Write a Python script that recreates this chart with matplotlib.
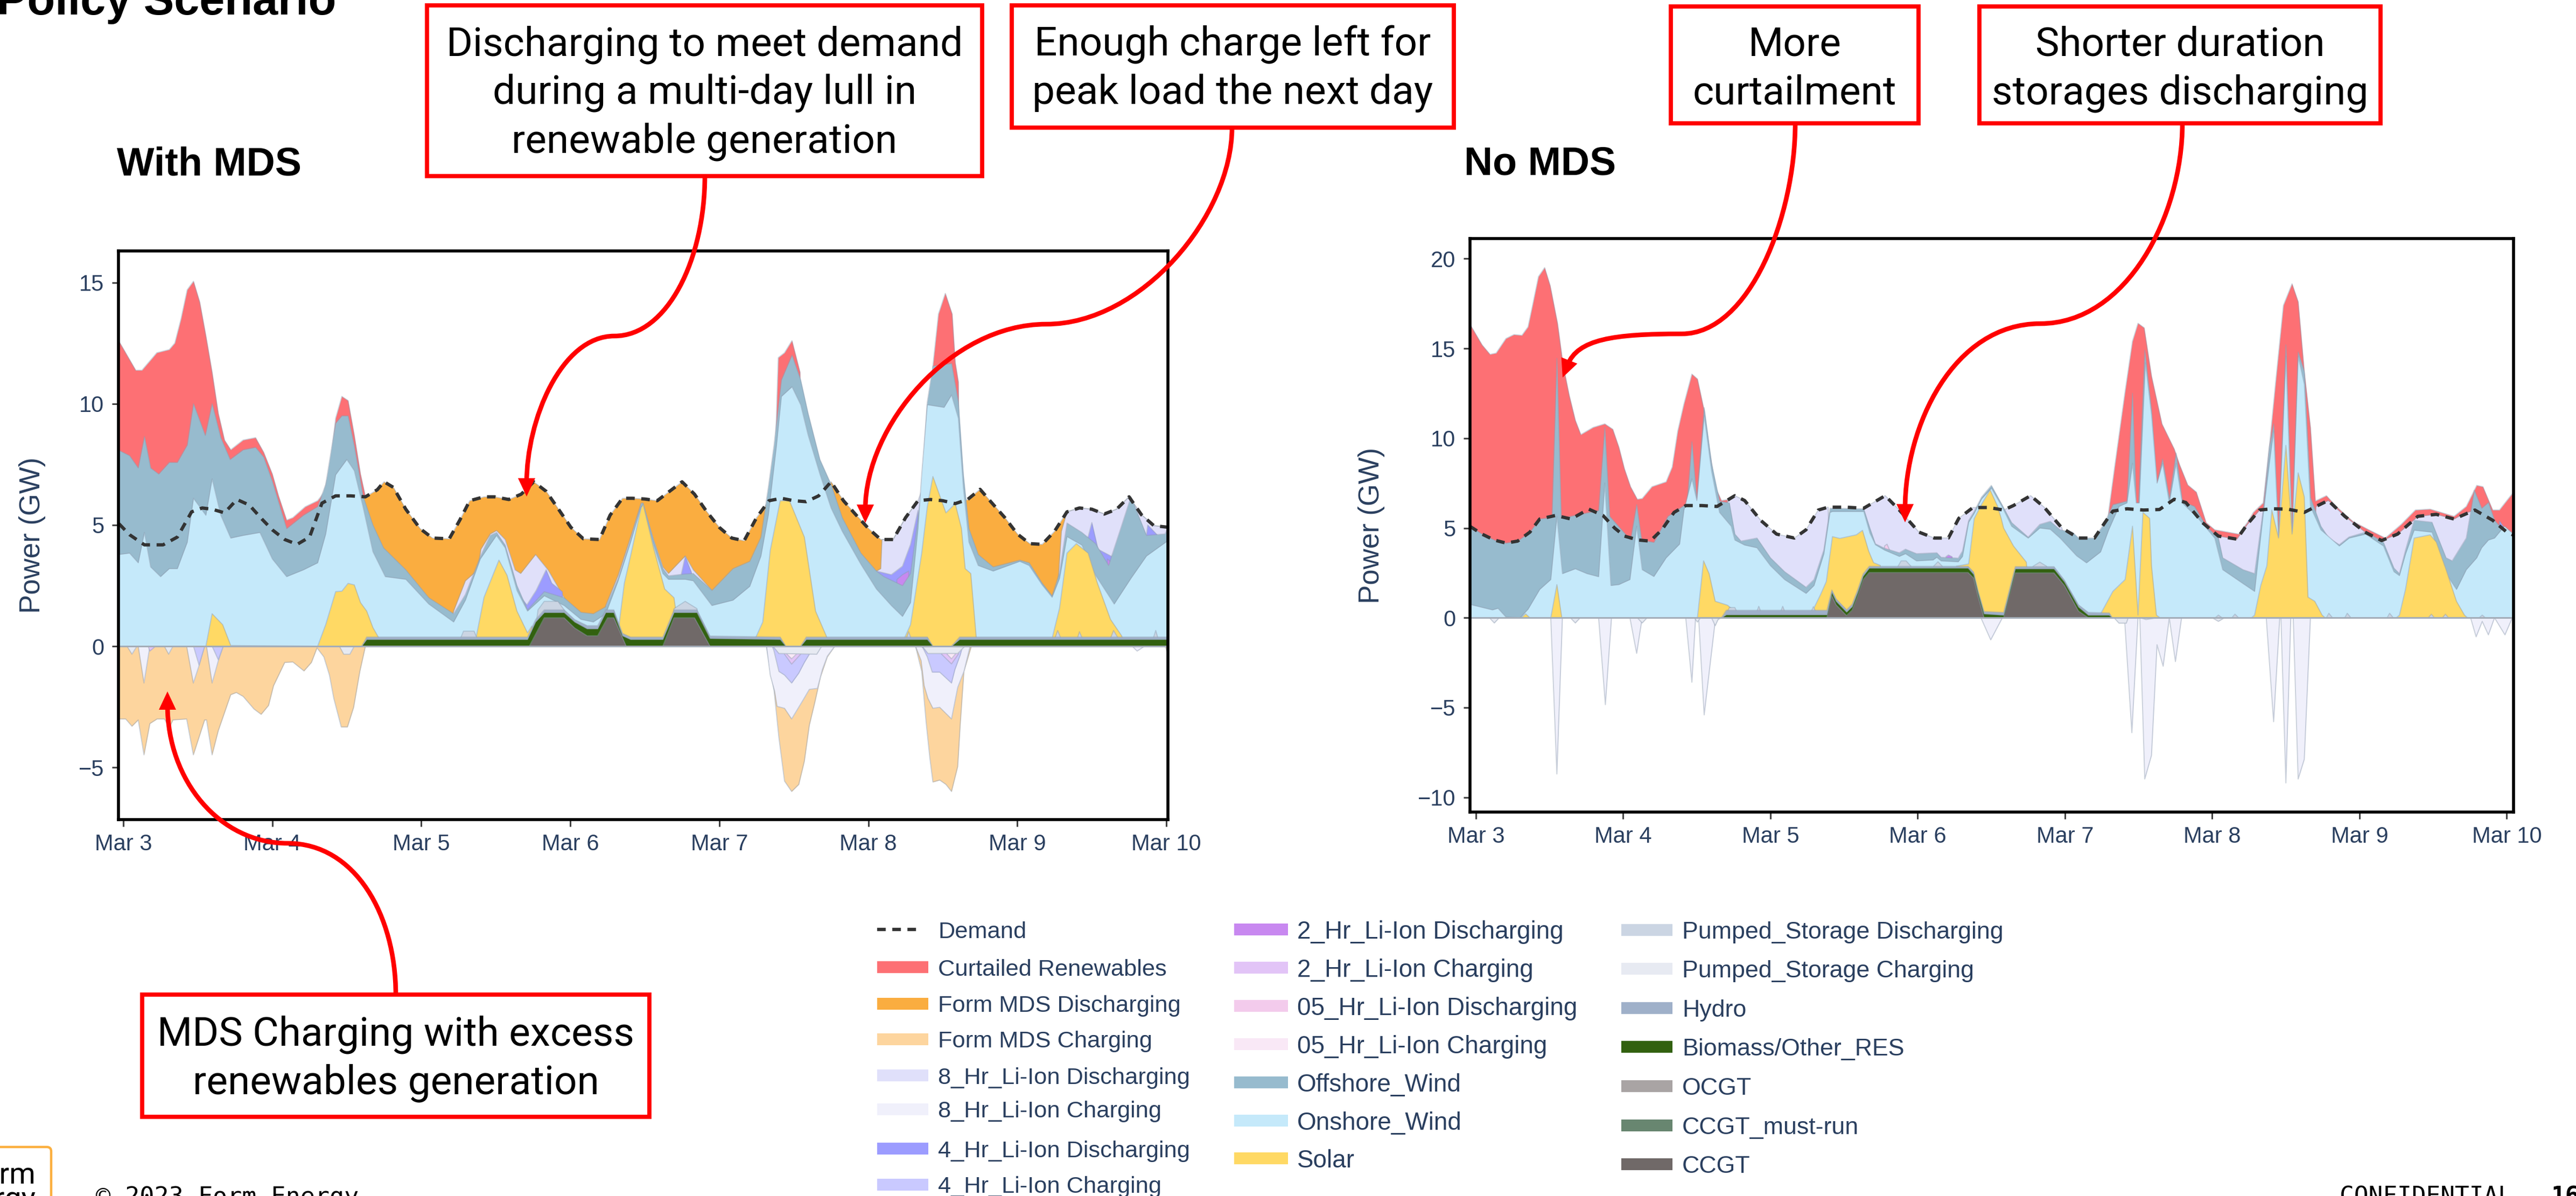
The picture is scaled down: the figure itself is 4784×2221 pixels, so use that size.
import matplotlib
matplotlib.use('Agg')
import matplotlib.pyplot as plt
from matplotlib.path import Path
from matplotlib.patches import PathPatch, Polygon, Rectangle, FancyBboxPatch

W, H = 4784, 2221
DPI = 200

# Colours of the legend entries
colors = {
    'curtailed': '#fd7074', 'mds_dis': '#faad40', 'mds_chg': '#fdd59e',
    'h8_dis': '#e0e0fa', 'h8_chg': '#f0f0fb', 'h4_dis': '#9c9cff', 'h4_chg': '#c9c9ff',
    'h2_dis': '#c888f0', 'h2_chg': '#e2c4f7', 'h05_dis': '#f3cbec', 'h05_chg': '#f9e8f6',
    'offshore': '#97bbce', 'onshore': '#c5e9fa', 'solar': '#ffd964',
    'ps_dis': '#cbd5e3', 'ps_chg': '#e7eaf2', 'hydro': '#9fb0c9', 'biomass': '#32610f',
    'ocgt': '#a9a4a4', 'must_run': '#688670', 'ccgt': '#706968',
}

day_ticks = [0, 24, 48, 72, 96, 120, 144, 168]
day_labels = ['Mar 3', 'Mar 4', 'Mar 5', 'Mar 6', 'Mar 7', 'Mar 8', 'Mar 9', 'Mar 10']

# ---------- With MDS (values are the top of each stacked layer, GW) ----------
L_demand_h = [-0.7, 1, 3.4, 6.4, 8.7, 11, 12.7, 14.3, 16.3, 18.3, 20.3, 22.3, 24, 26, 28, 30, 32, 34.2, 36.6, 39,
              40.9, 42, 43.5, 45.5, 47.8, 49.8, 52.5, 54.2, 55.8, 58.1, 59.8, 62.1, 64.1, 66.1, 68.1, 70.1, 72.1,
              74.1, 76.7, 78.4, 80.4, 82, 84, 86, 88, 90, 92, 94, 96, 98, 100, 102, 104, 106, 108, 110, 112, 114,
              116, 118, 120, 122, 124, 126, 128, 130, 132, 134, 136, 138, 140, 142, 144, 146, 148, 150, 152, 154,
              156, 158, 160, 162, 164, 166, 168.5]
L_demand = [5.05, 4.6, 4.18, 4.18, 4.5, 5.54, 5.7, 5.65, 5.5, 6.05, 5.82, 5.25, 4.8, 4.4, 4.2, 4.5, 5.9, 6.2, 6.2, 6.16,
            6.45, 6.78, 6.55, 5.65, 4.85, 4.46, 4.43, 5.2, 6.0, 6.16, 6.16, 6.05, 6.27, 6.78, 6.39, 5.65, 4.9,
            4.43, 4.4, 5.4, 6.1, 6.1, 6.07, 6.0, 6.39, 6.78, 6.27, 5.54, 4.9, 4.46, 4.35, 5.3, 6.0, 6.1, 6.0, 5.96, 6.2, 6.78,
            6.0, 5.42, 4.86, 4.4, 4.4, 5.3, 6.0, 6.05, 6.0, 5.88, 6.05, 6.47, 5.88, 5.3, 4.63, 4.23, 4.2, 4.74, 5.54, 5.7,
            5.65, 5.45, 5.65, 6.16, 5.42, 4.97, 4.9]

L_curtailed_h = [-0.8, 2, 3, 5.4, 7.4, 8.3, 9.3, 10.3, 11.3, 12.3, 13.3, 14.3, 15.3, 16.3, 17.3, 19.3, 21.3, 22.6, 24, 25,
                 26.3, 27.3, 29.3, 31.3, 32.3, 33.3, 34.2, 35.2, 36.2, 37.2, 38.2, 39, 39.3, 104, 105.5, 106.5, 107.7,
                 109, 109.5, 129, 130.4, 131.3, 132.4, 133.5, 134, 134.5, 135, 168.5]
L_curtailed = [12.62, 11.38, 11.38, 12.1, 12.23, 12.5, 13.5, 14.7, 15.05, 14.2, 12.8, 11.3, 9.6, 8.5, 8.1, 8.5, 8.6, 8.0, 7.1, 6.2,
               5.2, 5.3, 5.75, 6.0, 6.33, 7.35, 9.4, 10.3, 10.13, 8.7, 7.1, 6.16, 0, 0, 11.9, 12.1, 12.6,
               11.3, 0, 0, 11.55, 13.7, 14.55, 13.7, 11.7, 10.9, 0, 0]

L_h8_h = [52, 53.2, 55.1, 57.1, 57.6, 59.1, 60.1, 61.5, 63.1, 64, 66.4, 68.4, 71, 72, 77, 77.7, 79.7, 81.7, 83.4, 83.7, 85.4, 86.9,
          87.8, 90.5, 91.8, 94.8, 95, 121, 121.3, 122, 122.2, 124, 126, 128, 128.6, 129, 149, 149.6, 150.5, 151.1, 152, 154, 156, 158,
          160, 162, 164, 166, 168.5]
L_h8 = [0, 1.45, 2.7, 3.15, 4.0, 4.63, 4.77, 4.4, 3.15, 3.0, 3.78, 3.15, 2.0, 0, 0, 1.68, 2.93, 4.5, 5.9, 5.9, 4.4, 3.27,
        3.0, 3.72, 3.15, 2.3, 0, 0, 3.1, 3.2, 4.4, 4.4, 5.3, 6.0, 6.4, 0, 0, 2.08, 2.37, 4.74, 5.54, 5.7, 5.65, 5.45,
        5.65, 6.16, 5.42, 4.97, 4.9]

L_h4_h = [63.8, 64.1, 65, 66.5, 68.1, 69, 70.7, 71, 89.5, 89.9, 90.5, 91.5, 91.8, 121, 121.3, 123.7, 125.5, 126.8, 128, 128.3,
          155, 155.2, 156, 157, 159.2, 160, 160.5, 164.5, 164.8, 165, 166.5, 166.7]
L_h4 = [0, 2.0, 1.7, 2.3, 3.15, 2.6, 2.25, 0, 0, 3.0, 3.7, 3.05, 0, 0, 3.1, 2.95, 3.3, 4.2, 5.6, 0,
        0, 4.3, 5.1, 4.0, 3.7, 3.9, 0, 0, 4.6, 5.0, 4.6, 0]

L_h2_h = [124.5, 124.6, 125.5, 126.5, 126.7, 158.3, 158.5, 159, 159.8, 160]
L_h2 = [0, 2.75, 2.95, 3.1, 0, 0, 3.6, 3.5, 3.7, 0]

L_offshore_h = [-0.8, 1, 2.4, 3.4, 4.4, 5.7, 7.4, 8.7, 10.3, 11.3, 13.2, 14.3, 15.7, 17.2, 19.3, 21.3, 22.6, 24, 26.3, 29, 31.3,
                32.6, 34.2, 35.2, 36.2, 37.2, 38.6, 40.2, 41.9, 45.5, 49.2, 53.2, 55.1, 57.5, 59.1, 60.1, 61.5, 63.4, 65.1,
                67.8, 71, 73.7, 75.7, 77.7, 79.7, 81.7, 83.4, 83.7, 85.4, 86.9, 87.8, 90.5, 91.8, 94.8, 98.2, 100.9, 102.7,
                103.9, 104.8, 106, 107.7, 109.1, 110.3, 112.2, 114, 115.8, 118.8, 121.3, 122.5, 125.5, 126.8, 128, 128.6,
                129.5, 130.4, 133.4, 134.5, 135.3, 136.2, 137.7, 140.1, 144.4, 145.9, 148, 149.6, 150.8, 152, 154.4,
                156.6, 158.7, 160.8, 162.3, 164.8, 167.8, 168.5]
L_offshore = [8.09, 7.86, 7.35, 8.65, 7.35, 7.1, 7.58, 7.58, 8.3, 10.0, 8.69, 10.0, 8.6, 7.7, 8.1, 8.2, 7.8, 6.8, 4.85, 5.4, 5.76,
              6.67, 9.2, 9.5, 9.5, 8.26, 6.2, 5.0, 4.06, 3.15, 2.0, 1.34, 2.13, 3.7, 4.57, 4.69, 4.17, 2.5, 1.5,
              2.25, 2.0, 1.4, 1.34, 1.63, 2.8, 4.4, 5.87, 5.9, 4.35, 3.2, 2.9, 2.98, 3.0, 2.3, 3.2, 3.5, 4.5,
              6.56, 8.26, 10.98, 12.0, 10.98, 9.6, 7.7, 6.67, 5.3, 3.84, 3.1, 2.87, 2.5, 3.0, 5.3, 6.44,
              10.07, 11.55, 11.66, 10.07, 7.1, 4.85, 3.78, 3.27, 3.55, 3.44, 2.6, 2.08, 3.04, 5.08, 4.69,
              4.23, 3.33, 4.97, 6.16, 4.57, 4.63, 5.03]

L_onshore_h = [-0.8, 1, 2.4, 3.4, 4.4, 6, 7.4, 8.7, 10.3, 11.3, 13.3, 14.3, 15.7, 17.3, 19.3, 22, 24, 26.3, 29, 31.3, 32.6, 34.2,
               36, 37.2, 38.6, 40.2, 42.2, 45.5, 49.2, 53.2, 55.1, 57.5, 60.1, 61.5, 63.4, 65.1, 67.8, 71, 73.7, 75.7, 77.7,
               79.7, 81.7, 83.4, 83.7, 85.4, 86.9, 87.8, 90.5, 91.8, 94.8, 98.2, 100.9, 102.7, 103.9, 105.2, 106, 107.7,
               109.1, 110.3, 112.2, 114, 115.8, 118.8, 121.3, 123.7, 125.5, 126.8, 128, 128.6, 129.5, 132.2, 133.4, 134.5,
               135.3, 136.2, 137.7, 140.1, 144.4, 145.9, 148, 149.6, 150.8, 152, 154.4, 156.6, 159.6, 162.3, 164.8, 168.5]
L_onshore = [3.78, 3.84, 3.44, 4.69, 3.27, 2.87, 3.2, 3.2, 4.29, 6.1, 5.4, 6.9, 5.4, 4.46, 4.57, 4.69, 3.6, 2.87, 3.15, 3.44, 4.63, 7.07,
             7.7, 7.24, 5.76, 3.9, 2.87, 2.76, 1.74, 1.0, 1.9, 3.6, 4.57, 4.06, 2.3, 1.45, 2.08, 1.68, 1.11, 1.0, 1.34,
             2.7, 4.29, 5.76, 5.76, 4.17, 3.0, 2.76, 2.76, 2.7, 1.68, 1.9, 2.47, 3.72, 5.42, 8.26, 10.3, 10.7,
             9.96, 8.71, 7.1, 5.7, 4.74, 3.38, 2.36, 1.68, 1.23, 1.8, 4.86, 7.1, 9.96, 9.85, 10.36, 9.4,
             6.56, 4.29, 3.33, 3.1, 3.5, 3.33, 2.53, 2.02, 2.8, 4.52, 4.17, 2.93, 1.74, 2.8, 3.72, 4.4]

L_solar_h = [13.3, 14.3, 16, 17.3, 31.3, 32.6, 34.2, 35.2, 36.2, 37.2, 38.2, 39.2, 40.2, 41.2, 42, 56, 56.8, 58.1, 60.5, 61.8, 63.4,
             65.1, 65.8, 66.4, 79.5, 80, 80.7, 81.7, 83.4, 83.7, 85.4, 87.2, 88.7, 89, 89.5, 101.4, 101.8, 103, 104.2, 105.8,
             107.3, 109.7, 111.5, 113.4, 114, 125.4, 125.8, 126.8, 128.6, 129.5, 130.4, 132.5, 134, 135, 135.6, 136.5, 137.4,
             138, 149.2, 149.6, 150.8, 152, 153.5, 155.4, 156.9, 159, 160.8, 161.4]
L_solar = [0, 1.34, 0.89, 0.03, 0, 0.89, 2.25, 2.27, 2.59, 2.53, 1.8, 1.45, 0.77, 0.32, 0, 0, 0.32, 2.02, 3.55, 2.93, 1.45,
           0.55, 0.83, 0, 0, 1.2, 2.6, 3.72, 5.7, 5.87, 4.06, 2.36, 2.0, 1.45, 0, 0, 0.32, 1.0, 3.95, 6.0,
           6.0, 4.5, 1.45, 0.32, 0, 0, 0.32, 0.89, 3.84, 5.76, 7.0, 5.5, 5.88, 4.86, 3.2, 3.0, 0.32,
           0, 0, 0.32, 1.57, 3.84, 4.23, 3.84, 2.6, 1.11, 0.43, 0]

L_ps_h = [53.8, 54.8, 56.5, 57.5, 66, 66.8, 67.8, 70, 71, 71.5, 88, 88.7, 90.5, 92.4, 93, 125.7, 126.5, 127.3, 149.6, 150.5, 151.5,
          153.3, 154, 155, 158.5, 159.5, 161, 165.5, 166.3, 167]
L_ps = [0, 0.62, 0.62, 0, 0, 1.5, 1.85, 1.85, 1.5, 0, 0, 1.55, 1.85, 1.55, 0, 0, 0.6, 0, 0, 0.65, 0,
        0, 0.6, 0, 0, 0.65, 0, 0, 0.65, 0]

L_biomass_h = [38.4, 39.2, 65.1, 66.4, 67.8, 71, 72.7, 74.7, 76.4, 77.7, 79, 80.4, 81.7, 86.9, 88.7, 92.4, 94.5, 105.8, 106.7, 109.1,
               110, 129.5, 130.4, 133.4, 134.7, 168.5]
L_hydro = [0, 0.38, 0.38, 1.1, 1.5, 1.5, 1.1, 0.85, 0.85, 1.5, 1.5, 0.53, 0.38, 0.38, 1.5, 1.5, 0.42, 0.38, 0, 0,
           0.38, 0.38, 0, 0, 0.38, 0.38]
L_biomass = [0, 0.28, 0.28, 1.0, 1.39, 1.39, 1.0, 0.72, 0.72, 1.39, 1.39, 0.43, 0.28, 0.28, 1.39, 1.39, 0.32, 0.28, 0, 0,
             0.28, 0.28, 0, 0, 0.28, 0.28]

L_ccgt_h = [65.4, 67.8, 71, 72.7, 74.7, 76.4, 78, 79, 81, 86.9, 88.7, 92, 94.5]
L_ccgt = [0, 1.17, 1.17, 0.75, 0.43, 0.43, 1.17, 1.17, 0, 0, 1.17, 1.17, 0]

L_mds_chg_h = [-0.8, 0.38, 1.39, 2.4, 3.33, 4.28, 5.44, 6.6, 7.46, 8, 10.2, 11.28, 13.1, 13.4, 14.3, 15.3, 16.1, 17.3, 18.2, 19.3, 21.05,
               22.2, 23.4, 24.2, 26, 27.3, 29.1, 30.3, 31.2, 32.3, 33.2, 33.9, 35.1, 36.1, 37.1, 38.1, 39, 103.6, 104.8, 105.6,
               106.5, 107.65, 108.8, 109.7, 110.5, 111.4, 112.3, 113.4, 114.6, 127.6, 128.6, 129.3, 129.9, 130.4, 131.5, 132.5,
               133.4, 134.4, 134.8, 135.4, 136.6, 167.8, 168.5]
L_mds_chg = [-3.0, -3.0, -3.3, -3.04, -4.48, -3.19, -3.0, -3.0, -3.33, -3.04, -3.0, -4.48, -3.04, -3.04, -4.48, -3.48, -2.89, -2.0, -1.91, -2.07, -2.59,
             -2.81, -2.44, -1.63, -0.67, -0.65, -1.02, -0.67, -0.07, -0.44, -1.19, -2.15, -3.33, -3.33, -2.52, -1.04, 0, 0, -1.78, -3.78,
             -5.56, -5.99, -5.7, -4.74, -3.26, -2.3, -1.26, -0.44, 0, 0, -1.04, -3.11, -4.59, -5.6, -5.52, -5.7,
             -5.99, -4.96, -3.26, -1.04, 0, 0, -0.5]

L_h8_chg_h = [2.4, 3.33, 4.28, 10.2, 11.28, 12.2, 13.1, 13.4, 14.3, 15.3, 16.1, 103.6, 104.2, 104.9, 105.3, 106.5, 107.65, 109.4, 110.5,
              111.8, 112.6, 113.4, 114.6, 127.6, 128.5, 129, 129.6, 130.4, 131.5, 133.4, 134.4, 135.4, 136.4, 162.5, 163.3, 164.5]
L_h8_chg = [0, -1.52, 0, 0, -1.52, -0.8, 0, 0, -1.52, -0.6, 0, 0, -1.19, -1.85, -2.48, -2.56, -3.0, -2.26, -1.78,
            -1.74, -0.96, -0.41, 0, 0, -0.59, -1.63, -2.15, -2.56, -2.52, -3.0, -1.7, -1.04, 0, 0, -0.2, 0]

L_h4_chg_h = [11.3, 12.2, 13.1, 14.3, 15.3, 16.1, 104.5, 104.76, 105.6, 106.5, 107.65, 108.8, 109.7, 110.5, 110.9, 128.5, 128.8, 129.5,
              130.3, 131.5, 133.4, 133.95, 134.8, 135.2]
L_h4_chg = [0, -0.78, 0, 0, -0.56, 0, 0, -0.15, -1.04, -1.19, -1.52, -1.11, -0.67, -0.33, 0, 0, -0.07, -0.44,
            -1.07, -1.07, -1.52, -0.96, -0.37, 0]

L_h2_chg_h = [4.0, 4.28, 5.2, 106.2, 106.5, 107.65, 109.1, 109.4, 131.5, 131.8, 133.4, 134.5, 134.8]
L_h2_chg = [0, -0.2, 0, 0, -0.33, -0.74, -0.33, 0, 0, -0.33, -0.73, -0.33, 0]

L_h05_chg_h = [106.7, 106.9, 107.65, 108.4, 108.6, 132.5, 132.7, 133.4, 134, 134.2]
L_h05_chg = [0, -0.33, -0.52, -0.33, 0, 0, -0.33, -0.52, -0.33, 0]

L_ps_chg_h = [0.6, 1.39, 2.2, 6.6, 7.3, 8, 34.8, 35.5, 36.5, 37.2, 104.5, 104.76, 105.6, 111.7, 112.4, 112.6, 128.6, 128.8, 129.6, 134.4, 135.4, 135.6]
L_ps_chg = [0, -0.33, 0, 0, -0.33, 0, 0, -0.33, -0.33, 0, 0, -0.04, -0.3, -0.33, -0.04, 0, 0, -0.04, -0.3, -0.3, -0.04, 0]

# ---------- No MDS ----------
R_demand_h = [-1, 1, 3, 4.9, 6.8, 8.8, 10.4, 13, 15.5, 18.4, 20.7, 22.6, 24.2, 26.5, 28.4, 30.3, 32.3, 34.2, 36.8, 39.3, 42.2, 43.8,
              46.4, 49, 51.9, 53.8, 55.8, 57.4, 60.3, 63.2, 66.7, 69, 72.2, 74.7, 77, 78.7, 81, 83.6, 86, 87.6, 90.4, 92.6, 95.5, 98.2,
              100.8, 102.5, 103.8, 106.1, 108.8, 111.4, 113.8, 115.7, 118.4, 121, 124, 125.7, 127.7, 129.7, 132.3, 135, 136.9, 138.9,
              141.6, 144.9, 147.6, 150.2, 153.5, 156.5, 159.4, 162.8, 165.7, 168, 169.1]
R_demand = [5.1, 4.66, 4.33, 4.16, 4.27, 4.77, 5.5, 5.7, 5.5, 6.05, 5.7, 5.0, 4.55, 4.33, 4.27, 4.9, 5.87, 6.25, 6.25, 6.2, 6.8, 6.53,
            5.43, 4.66, 4.44, 4.9, 6.0, 6.16, 6.16, 6.1, 6.8, 6.0, 4.77, 4.44, 4.44, 5.54, 6.14, 6.14, 6.0, 6.25, 6.8, 6.16, 5.0, 4.44,
            4.44, 5.3, 5.94, 6.07, 6.0, 6.03, 6.6, 6.42, 5.3, 4.55, 4.38, 5.2, 6.0, 6.07, 6.05, 5.87, 6.2, 6.53,
            5.65, 4.77, 4.3, 4.66, 5.65, 5.76, 5.5, 6.0, 5.43, 4.77, 4.6]

R_curtailed_h = [-1, 1, 2.3, 3.3, 4.9, 6.2, 7.5, 8.5, 9.3, 10.2, 11.2, 12.1, 13.3, 14.2, 15.2, 16.2, 17.1, 19.1, 21, 22.3, 23.3, 24.2, 25.2,
                 26.3, 27.1, 28.7, 31, 32, 32.9, 33.9, 35.2, 36.1, 37.1, 38, 39, 40, 41, 41.5, 102.5, 103.1, 104.1, 105.8, 107, 107.9, 108.9,
                 110.1, 111.8, 113.8, 114.7, 116, 117.4, 119, 120.4, 124.3, 125.7, 126.7, 128.3, 129.3, 130.3, 131.6, 133, 134,
                 135, 136, 136.8, 138.6, 140.2, 142.9, 145.5, 148.2, 150.8, 153.1, 155.5, 159.4, 161.4, 163.1, 164.1, 165.7, 166.8, 169.1]
R_curtailed = [16.37, 15.2, 14.67, 14.74, 15.55, 15.77, 15.73, 16.2, 17.5, 19.0, 19.5, 18.5, 16.4, 14.1, 12.4, 11.0, 10.2, 10.6, 10.8, 10.5, 9.5, 8.3, 7.3,
               6.6, 6.64, 7.3, 7.57, 8.4, 10.4, 11.9, 13.57, 13.3, 11.7, 9.5, 7.3, 6.53, 6.58, 0, 0, 5.87, 8.4, 12.6, 15.4, 16.4, 16.15,
               13.46, 10.8, 9.4, 8.5, 7.4, 7.0, 5.3, 4.9, 4.66, 5.3, 5.87, 6.4, 9.5, 13.0, 17.4, 18.6, 17.6,
               13.7, 10.6, 6.5, 6.8, 6.2, 5.37, 4.9, 4.44, 5.2, 6.0, 6.05, 5.65, 6.2, 7.37, 7.3, 6.0, 6.0, 7.0]

R_h8_h = [41, 42.2, 43.8, 46.4, 49, 51.9, 53.8, 55.8, 57.4, 58, 63, 63.2, 66.7, 69, 72.2, 74.7, 77, 78.7, 81, 83.6, 86, 87.6, 90.4, 92.6,
          95.5, 98.2, 100.8, 102.5, 103.8, 104, 120, 121, 124, 125.7, 127.7, 128.6, 129, 136, 136.9, 138.9, 141.6, 144.9, 147.6, 150.2,
          153.5, 156.5, 159.4, 161, 162.8, 165.7, 168, 169.1]
R_h8 = [6.45, 6.8, 6.53, 5.43, 4.66, 4.44, 4.9, 6.0, 6.16, 0, 0, 6.1, 6.8, 6.0, 4.77, 4.44, 4.44, 5.54, 6.14, 6.14, 6.0, 6.25, 6.8, 6.16,
        5.0, 0, 0, 0, 0, 0, 0, 4.55, 4.38, 5.2, 6.0, 6.0, 0, 0, 6.2, 6.53, 5.65, 4.77, 4.3, 4.66,
        5.65, 5.76, 5.5, 5.8, 6.0, 5.43, 4.77, 4.6]

R_h4_h = [166, 166.8, 167.6, 168.2]
R_h4 = [0, 5.4, 5.0, 0]

R_h2_h = [76, 76.6, 77, 77.6, 78]
R_h2 = [0, 3.4, 3.5, 3.4, 0]

R_h05_h = [66, 66.6, 67, 67.5, 68]
R_h05 = [0, 4.0, 4.1, 3.7, 0]

R_offshore_h = [-1, 1, 3, 4.9, 6.8, 8.8, 10.4, 12.4, 13.2, 13.9, 20, 21, 21.8, 25.2, 26.2, 27, 29, 31.3, 33.9, 34.4, 35.2, 36, 37.2, 38.4,
                39.7, 41.3, 42.2, 43.2, 45.8, 48, 50.3, 53.8, 55.1, 56.7, 57.7, 58.1, 63.2, 64.2, 65.1, 66.6, 69, 70, 71.8, 75.1, 75.8,
                78.6, 79.3, 80.3, 81.2, 82.4, 84, 85.7, 87.3, 90, 91.9, 93.6, 95.2, 97.2, 98.2, 100.8, 102.5, 103.8, 106.1, 107, 107.6, 108, 109,
                110.1, 111, 111.9, 113, 114.1, 115.1, 117.1, 119, 121, 121.7, 125, 126.9, 128.3, 129.3, 130, 130.8, 132, 133, 134, 135,
                136, 137.7, 139, 140.7, 142.3, 145, 147.9, 149.6, 150.5, 151.5, 152.9, 155.8, 158.1, 159.1, 161.4, 162.7, 163.9, 165, 166,
                167.6, 169.1]
R_offshore = [5.1, 4.66, 4.33, 4.16, 4.27, 4.77, 5.5, 5.6, 14.45, 5.54, 5.98, 10.6, 5.65, 4.33, 6.3, 4.33, 4.2, 5.65, 6.25, 6.3, 9.8, 6.5, 11.7, 8.6,
              6.5, 6.4, 4.66, 4.27, 4.44, 3.34, 2.57, 1.7, 2.13, 3.78, 6.1, 6.1, 6.07, 5.0, 4.12, 3.87, 3.62, 3.82, 3.57, 3.62, 3.37,
              3.32, 3.72, 5.42, 5.92, 6.72, 7.37, 6.32, 5.3, 4.49, 5.2, 5.37, 4.9, 4.77, 4.44, 4.44, 5.3, 6.3, 6.5, 12.5, 6.4, 6.4, 14.9,
              11.5, 7.5, 8.84, 6.64, 9.17, 6.5, 6.2, 5.1, 4.44, 3.34, 2.68, 2.46, 6.0, 9.5, 10.8, 4.44, 15.2, 4.66, 14.8, 13.7,
              6.7, 5.1, 4.44, 4.07, 4.5, 4.77, 4.2, 2.77, 2.46, 3.78, 5.43, 5.32, 3.34, 3.17, 4.44, 7.1, 6.1, 6.42, 5.43,
              4.77, 4.66]

R_onshore_h = [-1, 2.7, 3.6, 4.9, 7.2, 8.5, 10.4, 12.2, 13.2, 14.1, 16.2, 18.1, 20, 21, 22, 23.3, 25.1, 26.2, 27.1, 29, 31, 33.2, 33.9, 35.2, 36,
               37.2, 38.4, 39.7, 41.6, 42.2, 43.8, 45.8, 48, 50.3, 53.8, 55.1, 56.7, 57.7, 58.1, 63.2, 64.2, 65.1, 66.6, 69, 70, 71.8, 74.5,
               75.1, 75.8, 78.6, 79.3, 80.3, 81.2, 82.4, 84, 85.7, 87.3, 90, 91.9, 93.6, 95.2, 97.9, 99.5, 101.8, 103.1, 104.8, 106.1, 107,
               107.6, 108.1, 109.1, 110.1, 111, 111.9, 113, 114.1, 115.1, 117.7, 120.4, 121.7, 125, 126.9, 128.3, 129.3, 130, 130.8, 132, 133,
               134, 135, 136, 137.7, 140.7, 142.3, 145, 147.9, 149.6, 150.5, 151.5, 152.9, 155.8, 158.1, 159.8, 161.4, 163.1, 163.9, 165, 166,
               167.6, 169.1]
R_onshore = [0.75, 0.44, 0.53, 0.04, 0, 0.48, 1.58, 2.13, 5.65, 2.46, 2.73, 2.46, 2.29, 7.5, 1.8, 1.85, 2.13, 5.1, 2.68, 2.3, 3.34, 4.11, 6.0, 7.74, 6.53,
             11.26, 8.18, 5.87, 5.1, 4.33, 4.05, 3.9, 2.9, 2.13, 1.36, 1.8, 3.56, 5.87, 5.92, 5.92, 4.72, 4.07, 3.77, 3.42, 3.57, 3.17, 3.22,
             3.37, 3.17, 3.12, 3.42, 5.32, 5.82, 6.62, 7.22, 6.22, 5.1, 4.44, 5.0, 4.93, 4.44, 3.45, 3.06, 3.67, 4.88, 6.2, 6.4, 8.6,
             6.4, 6.4, 14.2, 11.3, 7.5, 8.6, 6.4, 8.6, 6.4, 5.54, 4.44, 2.68, 1.91, 1.47, 5.76, 8.6, 10.4, 4.44, 14.56, 4.55,
             14.56, 13.0, 6.2, 4.9, 4.0, 4.44, 4.66, 4.0, 2.57, 2.35, 3.56, 4.88, 4.77, 2.46, 1.58, 2.68, 3.34, 3.9, 4.33, 4.44,
             5.1, 4.66]

R_solar_h = [7, 7.5, 8.1, 8.8, 12.2, 13.2, 14, 36.1, 37.1, 38, 39, 41, 42.2, 43, 54.5, 55.2, 56.2, 57.1, 58.1, 59.3, 62, 63, 64, 64.8, 65.9,
             66.5, 77.8, 78.3, 80.3, 81.2, 82.4, 83.8, 85, 85.6, 86, 87.6, 89.7, 90.5, 101, 101.7, 103.8, 105.8, 106.3, 107, 107.9, 108.7,
             109.8, 110.1, 110.9, 111.5, 126.4, 126.9, 127.9, 128.9, 129.7, 130.8, 132, 133, 134, 135, 135.6, 136.7, 137.9, 138.4, 150,
             150.5, 151.5, 152.9, 155.5, 156.5, 158.1, 159.8, 161.1, 161.6]
R_solar = [0, 0.04, 0.22, 0, 0, 1.85, 0, 0, 3.17, 2.46, 0.92, 0.7, 0.37, 0, 0, 0.62, 1.32, 2.02, 4.52, 4.42, 4.62, 4.87, 3.72, 3.07, 2.92,
           0, 0, 2.87, 3.0, 5.52, 6.32, 7.12, 6.22, 5.54, 5.0, 4.0, 3.1, 0, 0, 0.15, 1.47, 2.13, 3.34, 5.1, 0.15, 5.87,
           5.54, 2.9, 0.15, 0, 0, 0.15, 1.8, 2.9, 6.0, 4.44, 9.6, 4.66, 8.07, 6.73, 1.15, 0.92, 0.15, 0, 0,
           0.15, 1.6, 4.44, 4.62, 4.22, 2.68, 0.92, 0.15, 0]

R_ps_h = [40.5, 41.3, 42.2, 43, 45.4, 46.1, 46.8, 49.3, 50, 50.7, 54.2, 55, 55.8, 68.3, 68.8, 69.3, 70.1, 70.9, 71.3, 74.2, 74.6, 75.3, 76, 76.4,
          90.3, 90.8, 91.9, 93, 93.4, 120.5, 121, 121.6, 123.2, 123.7, 124.3, 138.6, 139, 139.6, 141.6, 142, 142.6, 148.5, 148.9, 149.5,
          155.2, 155.7, 156.2, 157.5, 158, 158.5, 163.5, 164, 164.5]
R_ps = [0, 0.57, 0.57, 0, 0, 0.64, 0, 0, 0.64, 0, 0, 0.62, 0, 0, 2.87, 3.17, 3.17, 2.87, 0, 0, 2.87, 3.12, 2.87, 0,
        0, 2.87, 3.1, 2.87, 0, 0, 0.15, 0, 0, 0.2, 0, 0, 0.25, 0, 0, 0.25, 0, 0, 0.25, 0,
        0, 0.2, 0, 0, 0.2, 0, 0, 0.15, 0]

R_biomass_h = [40, 40.8, 57.2, 58, 58.7, 60.4, 61.3, 62.2, 63.1, 64.1, 80.2, 81.1, 81.8, 82.8, 86, 87.9, 94.2, 95.9, 98.2, 99.8, 103.2, 103.7, 169.1]
R_hydro = [0, 0.42, 0.42, 1.55, 1.05, 0.45, 0.75, 1.55, 2.45, 2.87, 2.87, 2.55, 1.55, 0.35, 0.3, 2.85, 2.85, 2.1, 0.72, 0.3, 0.27, 0, 0]
R_biomass = [0, 0.17, 0.17, 1.42, 0.92, 0.32, 0.62, 1.42, 2.32, 2.77, 2.77, 2.42, 1.42, 0.22, 0.15, 2.73, 2.73, 2.0, 0.6, 0.15, 0.15, 0, 0]

R_ccgt_h = [57.2, 58, 58.7, 60.4, 61.3, 62.2, 63.1, 64.1, 80.2, 81.1, 81.8, 82.8, 86, 87.9, 94.2, 95.9, 98.2, 99.8]
R_ccgt = [0, 1.22, 0.72, 0.12, 0.42, 1.22, 2.12, 2.52, 2.52, 2.22, 1.22, 0, 0, 2.5, 2.5, 1.8, 0.37, 0]

R_h8_chg_h = [12.2, 13.2, 14.1, 20, 21.1, 22.1, 25.1, 26.2, 27.1, 34.2, 35.2, 35.8, 36.3, 37.2, 39, 40, 82.3, 83.9, 85.8, 105.7, 106.9, 107.9,
              108.2, 109, 110.1, 111, 112, 113, 114, 115, 128.8, 130, 131, 131.2, 132, 132.8, 133.2, 134, 135, 136, 162.1, 163, 164, 165,
              166, 167.7, 168.9]
R_h8_chg = [0, -8.7, 0, 0, -4.84, 0, 0, -1.98, 0, 0, -3.59, 0, 0, -5.41, -0.18, 0, 0, -1.23, 0, 0, -6.4, 0,
            0, -8.98, -7.66, -1.5, -2.7, 0, -2.44, 0, 0, -5.79, 0, 0, -9.2, 0, 0, -8.98, -7.88, 0, 0, -1.06, -0.2, -0.95,
            0, -0.95, 0]

R_ps_chg_h = [2.2, 3, 3.8, 15.4, 16.2, 17, 26.3, 27.1, 27.9, 35.6, 36.1, 36.6, 38.4, 39, 39.6, 104, 104.8, 106, 106.3, 108.3, 109.2, 111, 114, 120, 121, 122]
R_ps_chg = [0, -0.29, 0, 0, -0.29, 0, 0, -0.29, 0, 0, -0.24, 0, 0, -0.44, 0, 0, -0.3, -0.3, 0, 0, -0.1, 0, 0, 0, -0.2, 0]

draw_order = [0]


def layer(ax, hours, top, color):
    # later layers have to cover the edge lines of the earlier ones
    z = 1 + draw_order[0] * 0.02
    draw_order[0] += 1
    ax.fill_between(hours, 0, top, color=colors[color], lw=0, zorder=z)
    ax.plot(hours, top, color='#8f9db0', alpha=0.45, lw=0.7, solid_joinstyle='round', zorder=z + 0.01)


def setup_axes(rect, xlim, ylim, yticks):
    left, top, right, bottom = rect
    ax = fig.add_axes([left / W, 1 - bottom / H, (right - left) / W, (bottom - top) / H])
    ax.set_xlim(*xlim)
    ax.set_ylim(*ylim)
    ax.set_xticks(day_ticks)
    ax.set_xticklabels(day_labels)
    ax.set_yticks(yticks)
    ax.set_yticklabels([str(t).replace('-', '\u2212') for t in yticks])
    ax.tick_params(length=4.5, width=1.1, color='#444444', labelcolor='#2a3f5f', labelsize=15, pad=5)
    for s in ax.spines.values():
        s.set_linewidth(2)
        s.set_color('black')
    return ax


plt.rcParams['font.family'] = ['Liberation Sans', 'DejaVu Sans']
fig = plt.figure(figsize=(W / DPI, H / DPI), dpi=DPI, facecolor='white')

# Left chart
ax1 = setup_axes((220, 466, 2169, 1522), (-0.78, 168.26), (-7.15, 16.3), [-5, 0, 5, 10, 15])
layer(ax1, L_curtailed_h, L_curtailed, 'curtailed')
layer(ax1, L_demand_h, L_demand, 'mds_dis')
layer(ax1, L_h8_h, L_h8, 'h8_dis')
layer(ax1, L_h4_h, L_h4, 'h4_dis')
layer(ax1, L_h2_h, L_h2, 'h2_dis')
layer(ax1, L_offshore_h, L_offshore, 'offshore')
layer(ax1, L_onshore_h, L_onshore, 'onshore')
layer(ax1, L_solar_h, L_solar, 'solar')
layer(ax1, L_ps_h, L_ps, 'ps_dis')
layer(ax1, L_biomass_h, L_hydro, 'hydro')
layer(ax1, L_biomass_h, L_biomass, 'biomass')
layer(ax1, L_ccgt_h, L_ccgt, 'ccgt')
layer(ax1, L_mds_chg_h, L_mds_chg, 'mds_chg')
layer(ax1, L_h8_chg_h, L_h8_chg, 'h8_chg')
layer(ax1, L_h4_chg_h, L_h4_chg, 'h4_chg')
layer(ax1, L_h2_chg_h, L_h2_chg, 'h2_chg')
layer(ax1, L_h05_chg_h, L_h05_chg, 'h05_chg')
layer(ax1, L_ps_chg_h, L_ps_chg, 'ps_chg')
ax1.axhline(0, color='#a4adb8', lw=1.1, zorder=2.3)
ax1.plot(L_demand_h, L_demand, color='#333333', lw=2.2, dashes=(2.6, 2.0), zorder=2.4)
ax1.set_ylabel('Power (GW)', fontsize=19, color='#2a3f5f', labelpad=22)

# Right chart
draw_order[0] = 0
ax2 = setup_axes((2730, 443, 4668, 1508), (-0.96, 169.1), (-10.82, 21.12), [-10, -5, 0, 5, 10, 15, 20])
layer(ax2, R_curtailed_h, R_curtailed, 'curtailed')
layer(ax2, R_h8_h, R_h8, 'h8_dis')
layer(ax2, R_h4_h, R_h4, 'h4_dis')
layer(ax2, R_h05_h, R_h05, 'h05_dis')
layer(ax2, R_h2_h, R_h2, 'h2_dis')
layer(ax2, R_offshore_h, R_offshore, 'offshore')
layer(ax2, R_onshore_h, R_onshore, 'onshore')
layer(ax2, R_solar_h, R_solar, 'solar')
layer(ax2, R_ps_h, R_ps, 'ps_dis')
layer(ax2, R_biomass_h, R_hydro, 'hydro')
layer(ax2, R_biomass_h, R_biomass, 'biomass')
layer(ax2, R_ccgt_h, R_ccgt, 'ccgt')
layer(ax2, R_h8_chg_h, R_h8_chg, 'h8_chg')
layer(ax2, R_ps_chg_h, R_ps_chg, 'ps_chg')
ax2.axhline(0, color='#a4adb8', lw=1.1, zorder=2.3)
ax2.plot(R_demand_h, R_demand, color='#333333', lw=2.2, dashes=(2.6, 2.0), zorder=2.4)
ax2.set_ylabel('Power (GW)', fontsize=19, color='#2a3f5f', labelpad=22)

# Overlay in image pixels for the slide furniture
ov = fig.add_axes([0, 0, 1, 1], facecolor='none', zorder=10)
ov.set_xlim(0, W)
ov.set_ylim(H, 0)
ov.axis('off')

RED = '#ff0000'


def curve(start, seg1, ctrl2, mid, tip):
    # two bezier pieces from the box edge through mid to the arrow tip
    dx, dy = tip[0] - ctrl2[0], tip[1] - ctrl2[1]
    n = (dx ** 2 + dy ** 2) ** 0.5
    ux, uy = dx / n, dy / n
    end = (tip[0] - ux * 25, tip[1] - uy * 25)
    ctrl1 = (2 * mid[0] - seg1[1][0], 2 * mid[1] - seg1[1][1])
    verts = [start, seg1[0], seg1[1], mid, ctrl1, ctrl2, end]
    codes = [Path.MOVETO] + [Path.CURVE4] * 6
    ov.add_patch(PathPatch(Path(verts, codes), fc='none', ec=RED, lw=3.1, capstyle='butt'))
    px, py = -uy, ux
    ov.add_patch(Polygon([tip, (tip[0] - ux * 34 + px * 16, tip[1] - uy * 34 + py * 16),
                          (tip[0] - ux * 34 - px * 16, tip[1] - uy * 34 - py * 16)], fc=RED, ec='none'))


curve((1309, 327), ((1309, 480), (1240, 624)), (978, 780), (1141, 624), (978, 922))
curve((2288, 237), ((2288, 400), (2120, 602)), (1607, 790), (1943, 602), (1607, 971))
curve((3334, 229), ((3334, 400), (3250, 620)), (2930, 630), (3123, 620), (2902, 701))
curve((4053, 229), ((4053, 400), (3950, 601)), (3538, 790), (3789, 601), (3538, 970))
curve((735, 1847), ((735, 1700), (660, 1566)), (311, 1450), (534, 1566), (311, 1284))

callouts = [
    (793, 10, 1824, 327, ['Discharging to meet demand', 'during a multi-day lull in', 'renewable generation'], 103),
    (1879, 10, 2700, 237, ['Enough charge left for', 'peak load the next day'], 103),
    (3103, 12, 3563, 229, ['More', 'curtailment'], 103),
    (3676, 12, 4421, 229, ['Shorter duration', 'storages discharging'], 103),
    (264, 1847, 1206, 2074, ['MDS Charging with excess', 'renewables generation'], 1941),
]
for x0, y0, x1, y1, lines, base in callouts:
    ov.add_patch(Rectangle((x0, y0), x1 - x0, y1 - y0, fc='white', ec=RED, lw=2.8, joinstyle='miter'))
    for i, line in enumerate(lines):
        ov.text((x0 + x1) / 2, base + i * 90, line, ha='center', va='baseline', fontsize=26.9,
                family='Roboto', color='black')

ov.text(-6, 27, 'Policy Scenario', fontsize=30.5, fontweight='bold', va='baseline', color='black')
ov.text(217, 325, 'With MDS', fontsize=26.5, fontweight='bold', va='baseline', color='black')
ov.text(2719, 325, 'No MDS', fontsize=26.5, fontweight='bold', va='baseline', color='black')

# Legend, three hand placed columns
legend_col1 = ['Demand', 'Curtailed Renewables', 'Form MDS Discharging', 'Form MDS Charging', '8_Hr_Li-Ion Discharging',
               '8_Hr_Li-Ion Charging', '4_Hr_Li-Ion Discharging', '4_Hr_Li-Ion Charging']
legend_col2 = ['2_Hr_Li-Ion Discharging', '2_Hr_Li-Ion Charging', '05_Hr_Li-Ion Discharging', '05_Hr_Li-Ion Charging',
               'Offshore_Wind', 'Onshore_Wind', 'Solar']
legend_col3 = ['Pumped_Storage Discharging', 'Pumped_Storage Charging', 'Hydro', 'Biomass/Other_RES', 'OCGT',
               'CCGT_must-run', 'CCGT']
keys_col1 = [None, 'curtailed', 'mds_dis', 'mds_chg', 'h8_dis', 'h8_chg', 'h4_dis', 'h4_chg']
keys_col2 = ['h2_dis', 'h2_chg', 'h05_dis', 'h05_chg', 'offshore', 'onshore', 'solar']
keys_col3 = ['ps_dis', 'ps_chg', 'hydro', 'biomass', 'ocgt', 'must_run', 'ccgt']
rows_col1 = [1726, 1796, 1864, 1930, 1997, 2060, 2133, 2200]
rows_col2 = [1726, 1797, 1868, 1939, 2010, 2081, 2151]
rows_col3 = [1727, 1799, 1872, 1944, 2017, 2090, 2162]

for names, keys, rows, sx0, sx1, tx, size in [(legend_col1, keys_col1, rows_col1, 1629, 1724, 1742, 15.6),
                                              (legend_col2, keys_col2, rows_col2, 2292, 2392, 2409, 16.5),
                                              (legend_col3, keys_col3, rows_col3, 3011, 3106, 3124, 16.1)]:
    for name, key, row in zip(names, keys, rows):
        if key is None:
            ov.plot([sx0, sx0 + 82], [row, row], color='#333333', lw=2.2, dashes=(2.6, 2.0))
        else:
            ov.add_patch(Rectangle((sx0, row - 11), sx1 - sx0, 22, fc=colors[key], ec='none'))
        ov.text(tx, row, name, fontsize=size, color='#2a3f5f', va='center_baseline')

# Footer, cut by the slide edge as in the original
ov.add_patch(FancyBboxPatch((-40, 2130), 135, 140, boxstyle='round,pad=0,rounding_size=8', fc='white', ec='#fbb040', lw=1.6))
ov.text(66, 2198, 'Form', fontsize=20, ha='right', va='baseline', family='Roboto', color='black')
ov.text(66, 2242, 'Energy', fontsize=20, ha='right', va='baseline', family='Roboto', color='black')
ov.text(178, 2236, '\u00a9 2023 Form Energy', fontsize=16.2, va='baseline', family='DejaVu Sans Mono', color='black')
ov.text(4345, 2236, 'CONFIDENTIAL', fontsize=16, va='baseline', family='DejaVu Sans Mono', color='black')
ov.text(4738, 2236, '16', fontsize=16, fontweight='bold', va='baseline', family='DejaVu Sans Mono', color='black')

fig.savefig('out.png', dpi=DPI)
